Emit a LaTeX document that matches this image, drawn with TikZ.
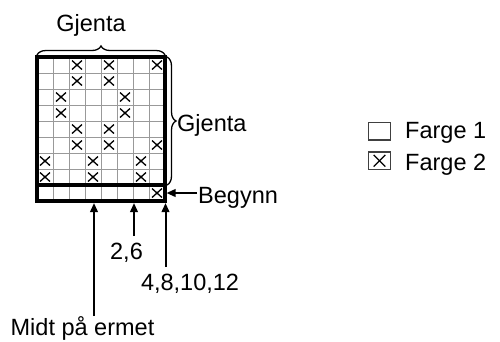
\documentclass[tikz,border=0pt]{standalone}
\usepackage{fontspec}
\setmainfont{Liberation Sans}
\usetikzlibrary{arrows.meta,decorations.pathreplacing}
\begin{document}
\begin{tikzpicture}[x=1pt,y=-1pt,
  lbl/.style={font=\fontsize{23.5}{28}\selectfont, inner sep=0pt},
  gridline/.style={draw=black!40, line width=0.9pt},
  frame/.style={draw=black, line width=3.4pt},
  xmark/.style={draw=black, line width=1.3pt},
  arr/.style={line width=2pt, -{Triangle[length=9pt,width=7.5pt]}},
  bracedeco/.style={decorate, decoration={brace, amplitude=9pt}, line width=1.3pt},
  legbox/.style={draw=black!75, line width=1.1pt, minimum width=21.5pt, minimum height=17.5pt, inner sep=0pt},
]
\useasboundingbox (0,0) rectangle (500,341);

% grid corners
\coordinate (gTL) at (37,57);
\coordinate (gBR) at (165,201);

% thin grid lines
\foreach \i in {1,...,7} {
  \draw[gridline] (37+16*\i,57) -- (37+16*\i,201);
}
\foreach \j in {1,...,7} {
  \draw[gridline] (37,57+16*\j) -- (165,57+16*\j);
}

% X marks: row/column
\foreach \r/\c in {1/3,1/5,1/8, 2/3,2/5, 3/2,3/6, 4/2,4/6, 5/3,5/5, 6/3,6/5,6/8, 7/1,7/4,7/7, 8/1,8/4,8/7, 9/8} {
  \pgfmathsetmacro{\cx}{29+16*\c}
  \pgfmathsetmacro{\cy}{49+16*\r}
  \draw[xmark] (\cx-5,\cy-4.5) -- (\cx+5,\cy+4.5) (\cx-5,\cy+4.5) -- (\cx+5,\cy-4.5);
}

% thick frame
\draw[frame] (gTL) rectangle (gBR);
\draw[frame] (37,185) -- (165,185);

% braces
\coordinate (tbL) at (37,55);
\coordinate (tbR) at (165,55);
\draw[bracedeco] (tbL) -- (tbR);
\coordinate (rbT) at (167,57);
\coordinate (rbB) at (167,185);
\draw[bracedeco] (rbT) -- (rbB);

% labels
\node[lbl, anchor=base] (gjtop) at (91,31.7) {Gjenta};
\node[lbl, anchor=base west] (gjright) at (177,131.7) {Gjenta};
\node[lbl, anchor=base west] (begynn) at (198,203) {Begynn};
\node[lbl, anchor=base] (l26) at (126.5,259) {2,6};
\node[lbl, anchor=base] (l48) at (190,290) {4,8,10,12};
\node[lbl, anchor=base] (midt) at (82.5,335) {Midt på ermet};

% arrows
\coordinate (bS) at (197,193);
\coordinate (bE) at (166.5,193);
\draw[arr] (bS) -- (bE);
\coordinate (mS) at (94,316);
\coordinate (mE) at (94,203);
\draw[arr] (mS) -- (mE);
\coordinate (aS) at (134,236);
\coordinate (aE) at (134,203);
\draw[arr] (aS) -- (aE);
\coordinate (cS) at (165.5,267);
\coordinate (cE) at (165.5,203);
\draw[arr] (cS) -- (cE);

% legend
\node[legbox] (box1) at (379.5,131.25) {};
\node[legbox] (box2) at (379.5,160.75) {};
\draw[xmark] ([shift={(5.5,3.5)}]box2.north west) -- ([shift={(-5.5,-3.5)}]box2.south east);
\draw[xmark] ([shift={(5.5,-3.5)}]box2.south west) -- ([shift={(-5.5,3.5)}]box2.north east);
\node[lbl, anchor=base west] (f1) at (405,138.5) {Farge 1};
\node[lbl, anchor=base west] (f2) at (405,170) {Farge 2};
\end{tikzpicture}
\end{document}
